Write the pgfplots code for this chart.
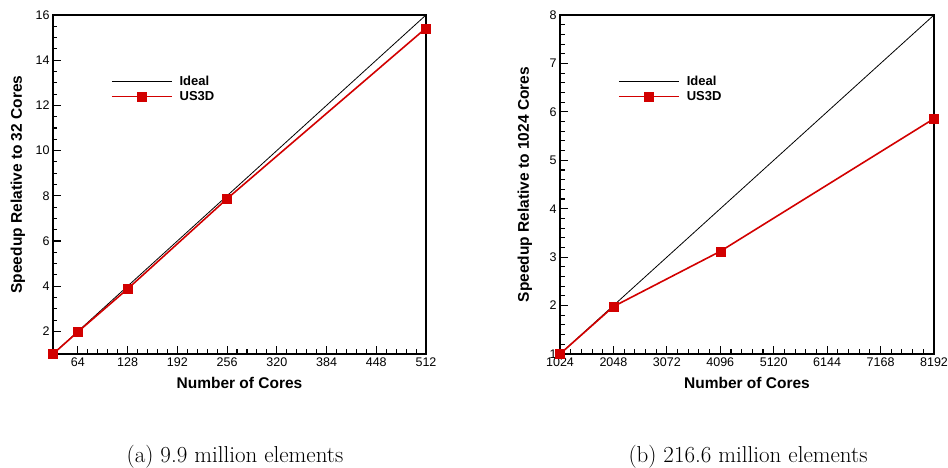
\documentclass[border=0pt]{standalone}
\usepackage{fontspec}
\usepackage{pgfplots}
\pgfplotsset{compat=1.18}
\newfontfamily\arialf{Liberation Sans}
\definecolor{usred}{RGB}{210,0,0}
\pgfplotsset{
  myaxis/.style={
    scale only axis, width=373pt, height=339pt,
    axis line style={line width=2.2pt},
    tick align=inside, xtick pos=bottom, ytick pos=left,
    major tick length=8pt, minor tick length=4.5pt,
    every tick/.append style={black, line width=1.1pt},
    tick label style={font=\arialf\fontsize{12.5}{14}\selectfont},
    /pgf/number format/assume math mode=true,
    /pgf/number format/1000 sep={},
    label style={font=\arialf\bfseries\fontsize{15.5}{18}\selectfont},
    xlabel style={at={(axis description cs:0.5,-0.0855)},anchor=center},
    ylabel style={at={(axis description cs:-0.094,0.5)},anchor=center},
    clip=false,
    legend style={draw=none,fill=none,font=\arialf\bfseries\fontsize{13}{15}\selectfont,
      at={(0.147,0.832)}, anchor=north west, row sep=0pt, column sep=5pt},
    legend cell align=left,
    legend image code/.code={\draw[mark repeat=2,mark phase=2,##1] plot coordinates {(0pt,0pt) (30pt,0pt) (60pt,0pt)};},
    xlabel={Number of Cores},
  },
  ideal/.style={black, line width=0.8pt, no marks},
  us/.style={usred, line width=1.6pt, mark=square*, mark size=4.5pt,
    mark options={solid, fill=usred, draw=usred, line width=0.2pt}},
}
\begin{document}
\begin{tikzpicture}
\useasboundingbox (0,0) rectangle (948pt,468pt);
\begin{axis}[myaxis, at={(53pt,114pt)}, anchor=south west, width=373pt,
  xmin=32, xmax=512, ymin=1, ymax=16,
  xtick={64,128,192,256,320,384,448,512}, minor x tick num=4,
  ytick={2,4,6,8,10,12,14,16}, minor y tick num=3,
  ylabel={Speedup Relative to 32 Cores}]
\addplot[ideal] coordinates {(32,1) (512,16)};
\addlegendentry{Ideal}
\addplot[us] coordinates {(32,1) (64,1.98) (128,3.88) (256,7.87) (512,15.42)};
\addlegendentry{US3D}
\end{axis}
\begin{axis}[myaxis, at={(560pt,114pt)}, anchor=south west, width=374pt,
  xmin=1024, xmax=8192, ymin=1, ymax=8,
  xtick={1024,2048,3072,4096,5120,6144,7168,8192}, minor x tick num=4,
  ytick={1,2,3,4,5,6,7,8}, minor y tick num=4,
  ylabel={Speedup Relative to 1024 Cores}]
\addplot[ideal] coordinates {(1024,1) (8192,8)};
\addlegendentry{Ideal}
\addplot[us] coordinates {(1024,1) (2048,1.98) (4096,3.12) (8192,5.86)};
\addlegendentry{US3D}
\end{axis}
\node[anchor=base, font=\fontsize{23}{26}\selectfont] at (235pt,5pt) {(a) 9.9 million elements};
\node[anchor=base, font=\fontsize{23}{26}\selectfont] at (748pt,5pt) {(b) 216.6 million elements};
\end{tikzpicture}
\end{document}
